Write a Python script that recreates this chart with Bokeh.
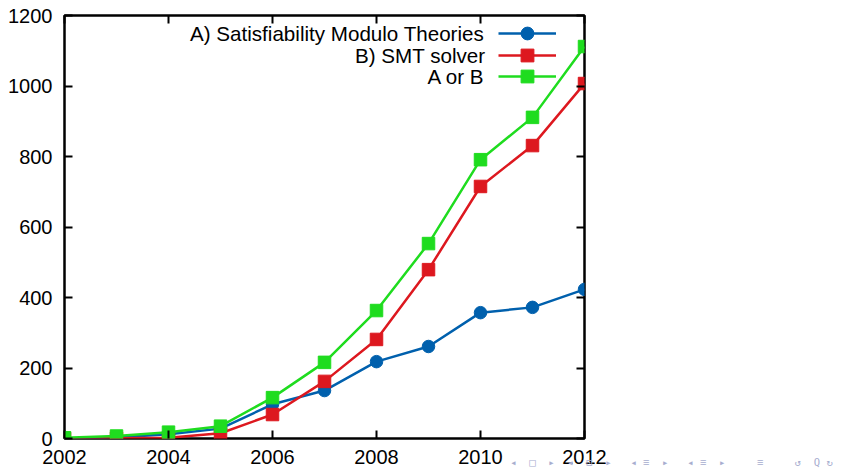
from bokeh.plotting import figure
from bokeh.models import (Range1d, LinearAxis, FixedTicker, Legend, LegendItem, Label)
from bokeh.embed import file_html
from bokeh.resources import INLINE

years = [2002, 2003, 2004, 2005, 2006, 2007, 2008, 2009, 2010, 2011, 2012]
smt_theories = [0, 3, 12, 28, 97, 136, 218, 261, 357, 372, 423]
smt_solver = [0, 1, 2, 15, 68, 162, 281, 479, 715, 831, 1007]
a_or_b = [2, 7, 18, 35, 116, 216, 363, 553, 791, 911, 1112]

series_names = ["A) Satisfiability Modulo Theories", "B) SMT solver", "A or B"]
x_ticks = [2002, 2004, 2006, 2008, 2010, 2012]
y_ticks = [0, 200, 400, 600, 800, 1000, 1200]

BLUE = "#0060ad"
RED = "#dd181f"
GREEN = "#1fdc1f"
FONT = "Liberation Sans"
FS = "20px"

p = figure(width=844, height=468, output_backend="svg", toolbar_location=None,
           x_range=Range1d(2002, 2012), y_range=Range1d(0, 1200),
           min_border_left=64, min_border_right=260, min_border_top=15, min_border_bottom=30,
           x_axis_location=None, y_axis_location=None)
p.grid.visible = False
p.outline_line_color = "black"
p.outline_line_width = 2.5
p.background_fill_color = "white"
p.border_fill_color = "white"

def make_axis(ticks, show_labels):
    ax = LinearAxis(ticker=FixedTicker(ticks=ticks))
    ax.major_tick_in = 8
    ax.major_tick_out = 0
    ax.minor_tick_line_color = None
    ax.major_tick_line_color = "black"
    ax.major_tick_line_width = 2
    ax.axis_line_color = None
    ax.major_label_text_font = FONT
    ax.major_label_text_font_size = FS
    ax.major_label_text_color = "black"
    if not show_labels:
        ax.major_label_text_alpha = 0
        ax.major_label_text_font_size = "1px"
        ax.major_label_standoff = 0
    return ax

bx = make_axis(x_ticks, True)
bx.major_label_standoff = 11
p.add_layout(bx, "below")
lx = make_axis(y_ticks, True)
lx.major_label_standoff = 12
p.add_layout(lx, "left")
p.add_layout(make_axis(x_ticks, False), "above")
p.add_layout(make_axis(y_ticks, False), "right")

r_lines = []
r_marks = []
for vals, color, marker in [(smt_theories, BLUE, "circle"),
                            (smt_solver, RED, "square"),
                            (a_or_b, GREEN, "square")]:
    l = p.line(years, vals, line_color=color, line_width=2.5)
    m = p.scatter(years, vals, marker=marker, size=12.5, fill_color=color, line_color=color)
    r_lines.append(l)
    r_marks.append(m)

# key: one legend per row (text left of sample, gnuplot style)
row_bottoms = [389, 367.5, 346]
text_left = [125.5, 290.5, 363]
text_y = [405, 383.5, 362]
for i in range(3):
    leg = Legend(items=[LegendItem(label=" ", renderers=[r_lines[i], r_marks[i]])],
                 location=(434, row_bottoms[i]), margin=0, padding=0, spacing=0,
                 glyph_width=58, glyph_height=32, label_height=32, label_width=1,
                 label_standoff=0, label_text_font_size="1px",
                 border_line_color=None, background_fill_alpha=0)
    p.add_layout(leg)
    p.add_layout(Label(x=text_left[i], y=text_y[i], x_units="screen", y_units="screen",
                       text=series_names[i], text_align="left", text_baseline="middle",
                       text_font=FONT, text_font_size="20.6px", text_color="black"))

# beamer navigation symbols (decoration): one monospace label in the (unclipped) top side panel
nav_glyphs = ["◂", "□", "▸", "◂", "⊡", "▸", "◂", "≡", "▸", "◂", "≡", "▸", "≡", "↺", "Q", "↻"]
nav_page_x = [513, 535, 553, 571, 589, 610, 630, 647, 663, 687, 703, 720, 762, 798, 815, 832]
nav_px = 10.5
cell = 0.602 * nav_px
slots = [round((v - nav_page_x[0]) / cell) for v in nav_page_x]
chars = ["\u00a0"] * (slots[-1] + 1)   # non-breaking spaces: not collapsed in SVG text
for s, g in zip(slots, nav_glyphs):
    chars[s] = g
nav_text = "".join(chars)
frame_left, frame_top = 64, 15
p.add_layout(Label(x=nav_page_x[0] - frame_left - cell / 2, y=frame_top - 461,
                   x_units="screen", y_units="screen", text=nav_text,
                   text_align="left", text_baseline="middle",
                   text_font="DejaVu Sans Mono", text_font_size=f"{nav_px}px",
                   text_color="#a7adcf"),
             "above")

open("out.html", "w").write(file_html(p, INLINE))
